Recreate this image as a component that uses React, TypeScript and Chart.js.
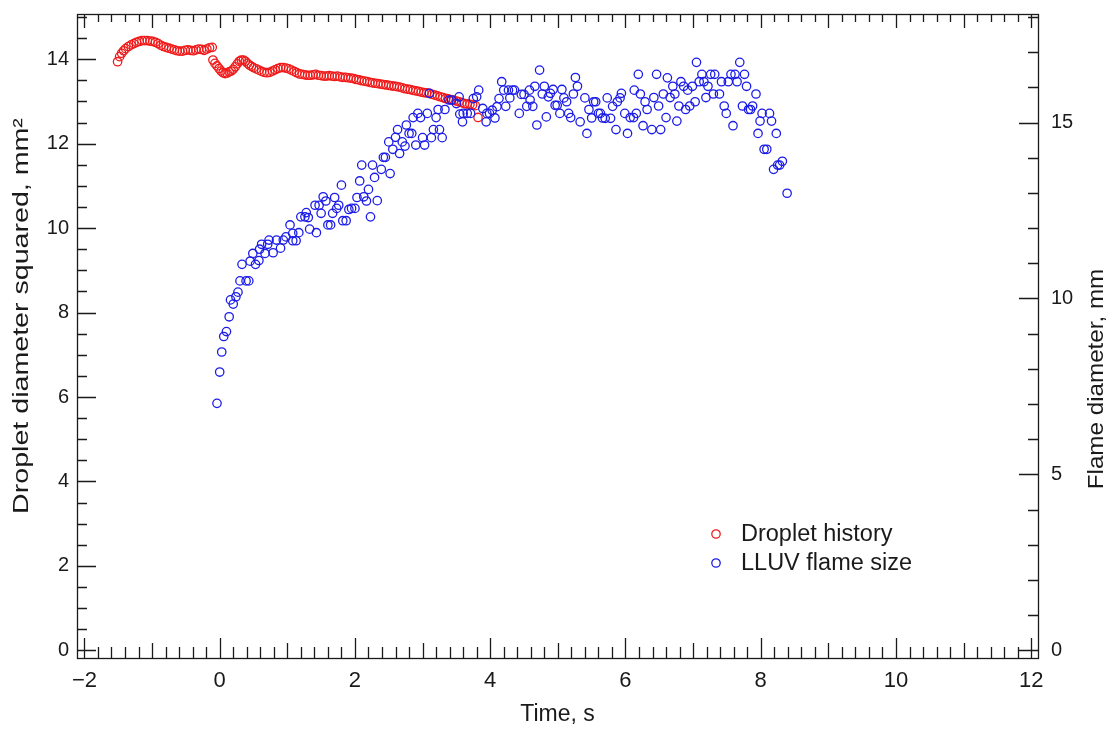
import React, { useEffect, useRef } from "react";
import { Chart, registerables } from "chart.js";
Chart.register(...registerables);

// ---- Data: droplet diameter squared (mm^2) vs time (s) ----
const redTime = [
  -1.51, -1.48, -1.45, -1.42, -1.39, -1.35, -1.31, -1.27, -1.23, -1.19, -1.15, -1.11,
  -1.07, -1.03, -0.99, -0.95, -0.91, -0.87, -0.83, -0.79, -0.75, -0.71, -0.67, -0.63,
  -0.59, -0.55, -0.51, -0.47, -0.43, -0.39, -0.35, -0.31, -0.27, -0.23, -0.19, -0.15, -0.11,
  -0.10, -0.07, -0.04, -0.01, 0.02, 0.05, 0.08, 0.11, 0.14, 0.17, 0.2, 0.23, 0.26, 0.29,
  0.32, 0.35, 0.38, 0.41, 0.44, 0.47, 0.5, 0.54, 0.58, 0.62, 0.66, 0.7, 0.74, 0.78, 0.82,
  0.86, 0.9, 0.94, 0.98, 1.02, 1.06, 1.1, 1.14, 1.18, 1.22, 1.26, 1.3, 1.34, 1.38, 1.42,
  1.46, 1.5, 1.54, 1.58, 1.62, 1.66, 1.7, 1.74, 1.78, 1.82, 1.86, 1.9, 1.94, 1.98, 2.02,
  2.06, 2.1, 2.14, 2.18, 2.22, 2.26, 2.3, 2.34, 2.38, 2.42, 2.46, 2.5, 2.54, 2.58, 2.62,
  2.66, 2.7, 2.74, 2.78, 2.82, 2.86, 2.9, 2.94, 2.98, 3.02, 3.06, 3.1, 3.14, 3.18, 3.22,
  3.26, 3.3, 3.34, 3.38, 3.42, 3.46, 3.5, 3.54, 3.58, 3.62, 3.66, 3.7, 3.74, 3.78, 3.82,
];
const redD2 = [
  13.94, 14.06, 14.14, 14.2, 14.25, 14.3, 14.34, 14.37, 14.4, 14.42, 14.44, 14.44,
  14.44, 14.43, 14.42, 14.4, 14.37, 14.33, 14.3, 14.28, 14.26, 14.24, 14.22, 14.2,
  14.19, 14.19, 14.21, 14.22, 14.21, 14.2, 14.22, 14.24, 14.23, 14.21, 14.24, 14.27, 14.28,
  13.98, 13.9, 13.84, 13.78, 13.72, 13.68, 13.66, 13.67, 13.7, 13.72, 13.76, 13.82, 13.89, 13.95,
  13.98, 13.98, 13.95, 13.9, 13.86, 13.83, 13.8, 13.77, 13.74, 13.71, 13.69, 13.68, 13.69, 13.72, 13.75,
  13.78, 13.8, 13.8, 13.79, 13.77, 13.74, 13.71, 13.68, 13.65, 13.64, 13.63, 13.62, 13.62, 13.63, 13.64,
  13.62, 13.61, 13.6, 13.6, 13.61, 13.6, 13.59, 13.6, 13.58, 13.57, 13.57, 13.56, 13.55, 13.54, 13.52,
  13.51, 13.49, 13.48, 13.47, 13.45, 13.44, 13.43, 13.42, 13.41, 13.4, 13.39, 13.38, 13.37, 13.36, 13.35,
  13.34, 13.32, 13.3, 13.29, 13.28, 13.26, 13.25, 13.24, 13.22, 13.21, 13.2, 13.19, 13.17, 13.15, 13.13,
  13.11, 13.09, 13.07, 13.06, 13.04, 13.03, 13.01, 12.99, 12.97, 12.95, 12.94, 12.93, 12.92, 12.9, 12.62,
];

// ---- Data: LLUV flame diameter (mm) vs time (s) ----
const blueTime = [
  -0.04, 0.0, 0.03, 0.06, 0.1, 0.14, 0.16, 0.2, 0.24, 0.27, 0.3, 0.33, 0.39, 0.43, 0.45, 0.49,
  0.53, 0.58, 0.59, 0.62, 0.67, 0.71, 0.73, 0.79, 0.84, 0.9, 0.94, 0.98, 1.04, 1.08, 1.08, 1.13,
  1.17, 1.2, 1.26, 1.28, 1.31, 1.33, 1.41, 1.43, 1.47, 1.5, 1.53, 1.57, 1.6, 1.64, 1.67, 1.7,
  1.73, 1.76, 1.8, 1.82, 1.87, 1.91, 1.95, 2.0, 2.03, 2.07, 2.1, 2.13, 2.17, 2.2, 2.23, 2.26,
  2.29, 2.33, 2.39, 2.42, 2.45, 2.5, 2.52, 2.56, 2.6, 2.63, 2.66, 2.7, 2.74, 2.76, 2.8, 2.84,
  2.86, 2.9, 2.93, 2.97, 3.0, 3.03, 3.07, 3.1, 3.13, 3.16, 3.2, 3.23, 3.25, 3.29, 3.33, 3.39,
  3.43, 3.5, 3.54, 3.55, 3.59, 3.6, 3.66, 3.71, 3.75, 3.8, 3.83, 3.89, 3.94, 3.95, 3.99, 4.03,
  4.07, 4.1, 4.13, 4.17, 4.2, 4.23, 4.27, 4.29, 4.33, 4.36, 4.43, 4.46, 4.5, 4.54, 4.58, 4.59,
  4.63, 4.66, 4.69, 4.73, 4.77, 4.8, 4.83, 4.86, 4.89, 4.93, 4.96, 4.99, 5.03, 5.06, 5.09, 5.13,
  5.16, 5.19, 5.23, 5.26, 5.29, 5.33, 5.4, 5.43, 5.46, 5.5, 5.53, 5.56, 5.6, 5.63, 5.66, 5.7,
  5.73, 5.78, 5.81, 5.86, 5.88, 5.92, 5.94, 5.99, 6.03, 6.07, 6.12, 6.13, 6.16, 6.19, 6.22, 6.26,
  6.29, 6.32, 6.39, 6.42, 6.46, 6.49, 6.52, 6.56, 6.6, 6.62, 6.66, 6.7, 6.73, 6.76, 6.79, 6.82,
  6.86, 6.89, 6.92, 6.95, 6.99, 7.03, 7.05, 7.09, 7.13, 7.16, 7.19, 7.22, 7.26, 7.3, 7.32, 7.39,
  7.42, 7.46, 7.49, 7.52, 7.56, 7.59, 7.62, 7.65, 7.69, 7.73, 7.76, 7.79, 7.82, 7.85, 7.88, 7.93,
  7.96, 7.99, 8.02, 8.05, 8.09, 8.13, 8.16, 8.19, 8.23, 8.25, 8.28, 8.32, 8.39,
];
const blueFlame = [
  7.02, 7.91, 8.48, 8.92, 9.06, 9.48, 9.96, 9.84, 10.05, 10.18, 10.5, 10.97, 10.5, 10.5, 11.06, 11.28,
  10.97, 11.08, 11.4, 11.54, 11.28, 11.54, 11.66, 11.3, 11.66, 11.43, 11.66, 11.75, 12.09, 11.64, 11.85, 11.64,
  11.87, 12.32, 12.32, 12.44, 12.3, 11.97, 12.65, 11.87, 12.65, 12.42, 12.89, 12.77, 12.09, 12.09, 12.42, 12.87,
  12.56, 12.65, 13.22, 12.21, 12.21, 12.53, 12.56, 12.56, 12.87, 13.34, 13.79, 12.89, 12.77, 13.1, 12.32, 13.79,
  13.44, 12.78, 13.67, 14.01, 14.01, 14.45, 13.55, 14.24, 14.58, 14.8, 14.12, 14.45, 14.33, 14.93, 14.69, 14.69,
  15.14, 14.36, 15.26, 15.14, 14.57, 14.36, 15.26, 15.83, 14.57, 14.8, 15.14, 15.37, 14.8, 14.57, 15.37, 15.64,
  15.64, 15.54, 15.73, 15.24, 15.02, 15.26, 15.26, 15.26, 15.68, 15.73, 15.92, 15.4, 15.02, 15.26, 15.26, 15.35,
  15.13, 15.45, 15.68, 16.16, 15.92, 15.46, 15.92, 15.7, 15.92, 15.92, 15.26, 15.8, 15.8, 15.46, 15.92, 15.64,
  15.46, 16.03, 14.93, 16.49, 15.81, 16.03, 15.16, 15.73, 15.83, 15.94, 15.49, 15.49, 15.26, 15.94, 15.7, 15.59,
  15.26, 15.14, 15.81, 16.28, 16.03, 15.02, 15.7, 14.69, 15.37, 15.13, 15.59, 15.59, 15.26, 15.26, 15.13, 15.12,
  15.7, 15.12, 15.46, 14.8, 15.59, 15.7, 15.83, 15.26, 14.69, 15.14, 15.14, 15.92, 15.26, 16.37, 15.81, 14.91,
  15.59, 15.37, 14.8, 15.71, 16.37, 15.47, 14.8, 15.81, 15.14, 16.27, 15.71, 16.03, 15.81, 15.04, 15.47, 16.16,
  16.03, 15.37, 15.92, 15.47, 16.03, 15.59, 16.71, 16.16, 16.37, 16.16, 15.71, 16.03, 16.37, 15.81, 16.37, 15.81,
  16.16, 15.47, 15.26, 16.16, 16.37, 14.91, 16.37, 16.16, 16.71, 15.47, 16.37, 16.03, 15.37, 15.37, 15.47, 15.81,
  14.69, 15.04, 15.26, 14.24, 14.24, 15.26, 15.04, 13.67, 14.69, 13.79, 13.79, 13.9, 12.99,
];

// ---- Axes ----
const xTickValues = [-2, 0, 2, 4, 6, 8, 10, 12];
const leftTickValues = [0, 2, 4, 6, 8, 10, 12, 14];
const rightTickValues = [0, 5, 10, 15];
const X_MIN = -2.11;
const X_MAX = 12.1;
const YL_MIN = -0.18;
const YL_MAX = 15.07;
const YR_MIN = -0.216;
const YR_MAX = 18.084;

const FONT = "'Liberation Sans', Arial, Helvetica, sans-serif";
const INK = "#1a1a1a";
const RED = "#f01a1a";
const BLUE = "#1c1ce8";

const noPad = (s: any) => {
  s.paddingTop = 0;
  s.paddingBottom = 0;
  s.paddingLeft = 0;
  s.paddingRight = 0;
};

const framePlugin = {
  id: "frameTicks",
  afterDatasetsDraw(chart: any) {
    const { ctx, chartArea: a, scales } = chart;
    const sx = scales.x, yl = scales.y, yr = scales.y2;
    ctx.save();
    ctx.strokeStyle = INK;
    ctx.lineWidth = 1.3;
    ctx.beginPath();
    for (let i = -15; i <= 65; i++) {
      const v = i / 5;
      if (v < X_MIN || v > X_MAX) continue;
      const px = Math.round(sx.getPixelForValue(v)) + 0.5;
      const lb = i % 10 === 0 ? 20 : i % 5 === 0 ? 15 : 11;
      const lt = i % 5 === 0 ? 14 : 8;
      ctx.moveTo(px, a.bottom);
      ctx.lineTo(px, a.bottom - lb);
      ctx.moveTo(px, a.top);
      ctx.lineTo(px, a.top + lt);
    }
    for (let i = 0; i <= 30; i++) {
      const v = i / 2;
      if (v < YL_MIN || v > YL_MAX) continue;
      const py = Math.round(yl.getPixelForValue(v)) + 0.5;
      const l = i % 4 === 0 ? 19 : 10;
      ctx.moveTo(a.left, py);
      ctx.lineTo(a.left + l, py);
    }
    for (let i = 0; i <= 18; i++) {
      if (i < YR_MIN || i > YR_MAX) continue;
      const py = Math.round(yr.getPixelForValue(i)) + 0.5;
      const l = i % 5 === 0 ? 19 : 10;
      ctx.moveTo(a.right, py);
      ctx.lineTo(a.right - l, py);
    }
    ctx.stroke();
    ctx.strokeRect(a.left + 0.5, a.top + 0.5, a.right - a.left, a.bottom - a.top);

    // axis titles (vertical)
    ctx.fillStyle = INK;
    ctx.font = `22px ${FONT}`;
    ctx.textAlign = "center";
    ctx.textBaseline = "middle";
    ctx.save();
    ctx.translate(22, 316);
    ctx.rotate(-Math.PI / 2);
    ctx.scale(1.3, 1);
    ctx.fillText("Droplet diameter squared, mm\u00B2", 0, 0);
    ctx.restore();
    ctx.save();
    ctx.translate(1097, 379);
    ctx.rotate(-Math.PI / 2);
    ctx.scale(1.1, 1);
    ctx.fillText("Flame diameter, mm", 0, 0);
    ctx.restore();

    // legend
    ctx.font = `23.5px ${FONT}`;
    ctx.textAlign = "left";
    const ds = chart.data.datasets;
    [ds[0], ds[1]].forEach((d: any, k: number) => {
      const cy = 534 + k * 29;
      ctx.beginPath();
      ctx.strokeStyle = d.borderColor;
      ctx.lineWidth = 1.3;
      ctx.arc(716, cy, 4.2, 0, Math.PI * 2);
      ctx.stroke();
      ctx.fillStyle = INK;
      ctx.fillText(d.label, 741, cy + 1);
    });
    ctx.restore();
  },
};

export default function App() {
  const ref = useRef<HTMLCanvasElement | null>(null);
  useEffect(() => {
    if (!ref.current) return;
    const red = redTime.map((t, i) => ({ x: t, y: redD2[i] }));
    const blue = blueTime.map((t, i) => ({ x: t, y: blueFlame[i] }));
    const fmt = (v: any) => (Number(v) < 0 ? "\u2212" + Math.abs(Number(v)) : String(v));
    const chart = new Chart(ref.current, {
      type: "scatter",
      data: {
        datasets: [
          {
            label: "Droplet history",
            data: red,
            yAxisID: "y",
            borderColor: RED,
            backgroundColor: "rgba(0,0,0,0)",
            pointRadius: 4.2,
            borderWidth: 1.3,
            order: 1,
          },
          {
            label: "LLUV flame size",
            data: blue,
            yAxisID: "y2",
            borderColor: BLUE,
            backgroundColor: "rgba(0,0,0,0)",
            pointRadius: 4.2,
            borderWidth: 1.3,
            order: 0,
          },
        ],
      },
      options: {
        responsive: false,
        animation: false,
        events: [],
        layout: { padding: { top: 14, left: 0, right: 0, bottom: 0 } },
        plugins: { legend: { display: false }, tooltip: { enabled: false } },
        scales: {
          x: {
            type: "linear",
            position: "bottom",
            min: X_MIN,
            max: X_MAX,
            afterBuildTicks: (s: any) => {
              s.ticks = xTickValues.map((v) => ({ value: v }));
            },
            afterFit: (s: any) => {
              s.height = 71;
              noPad(s);
            },
            grid: { display: false, drawTicks: false },
            border: { display: false },
            ticks: {
              autoSkip: false,
              maxRotation: 0,
              padding: 10,
              color: INK,
              font: { family: FONT, size: 22 },
              callback: fmt,
            },
            title: {
              display: true,
              text: "Time, s",
              color: INK,
              font: { family: FONT, size: 23 },
              padding: { top: 0, bottom: 1 },
            },
          },
          y: {
            type: "linear",
            position: "left",
            min: YL_MIN,
            max: YL_MAX,
            afterBuildTicks: (s: any) => {
              s.ticks = leftTickValues.map((v) => ({ value: v }));
            },
            afterFit: (s: any) => {
              s.width = 77;
              noPad(s);
            },
            grid: { display: false, drawTicks: false },
            border: { display: false },
            ticks: { padding: 8, color: INK, font: { family: FONT, size: 20 }, callback: fmt },
          },
          y2: {
            type: "linear",
            position: "right",
            min: YR_MIN,
            max: YR_MAX,
            afterBuildTicks: (s: any) => {
              s.ticks = rightTickValues.map((v) => ({ value: v }));
            },
            afterFit: (s: any) => {
              s.width = 72;
              noPad(s);
            },
            grid: { display: false, drawTicks: false },
            border: { display: false },
            ticks: { padding: 13, color: INK, font: { family: FONT, size: 20 }, callback: fmt },
          },
        },
      },
      plugins: [framePlugin],
    });
    return () => chart.destroy();
  }, []);
  return (
    <div style={{ position: "absolute", left: 0, top: 0, width: 1110, height: 729, background: "#fff" }}>
      <canvas ref={ref} width={1110} height={729} style={{ display: "block", width: 1110, height: 729 }} />
    </div>
  );
}
